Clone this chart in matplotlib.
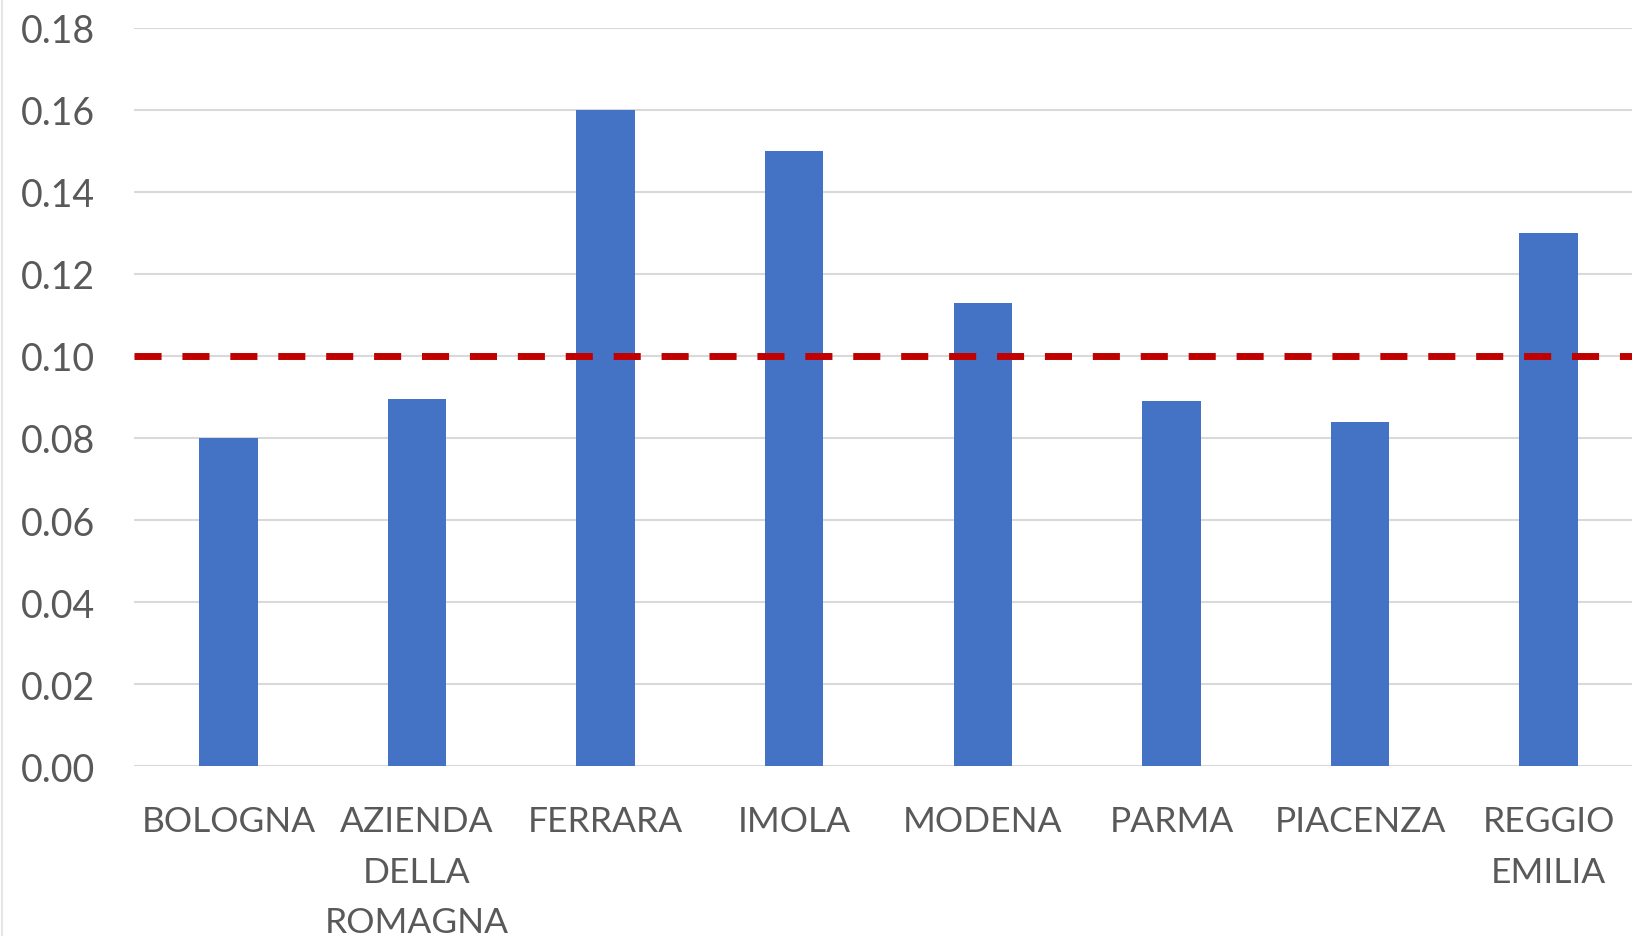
import matplotlib.pyplot as plt
import numpy as np

aziende = ['BOLOGNA', 'AZIENDA\nDELLA\nROMAGNA', 'FERRARA', 'IMOLA', 'MODENA',
           'PARMA', 'PIACENZA', 'REGGIO\nEMILIA']
valori = [0.080, 0.0895, 0.160, 0.150, 0.113, 0.089, 0.084, 0.130]
soglia = 0.10
y_ticks = [0.00, 0.02, 0.04, 0.06, 0.08, 0.10, 0.12, 0.14, 0.16, 0.18]

plt.rcParams['font.family'] = ['Lato', 'DejaVu Sans']

fig = plt.figure(figsize=(16.32, 9.37), dpi=100)
ax = fig.add_axes([0.0822, 0.1814, 0.9245, 0.7877])

x = np.arange(len(aziende))
ax.bar(x, valori, width=0.31, color='#4472c4', zorder=3)
ax.axhline(y=soglia, color='#c00000', linewidth=5, linestyle=(0, (3.9, 3)), zorder=4)

ax.set_xlim(-0.5, len(aziende) - 0.5)
ax.set_ylim(0, 0.18)
ax.set_yticks(y_ticks, [f'{t:.2f}' for t in y_ticks])
ax.set_xticks(x, aziende)
ax.grid(axis='y', color='#d9d9d9', linewidth=1.5, zorder=0)
ax.tick_params(axis='both', length=0, colors='#595959')
ax.tick_params(axis='y', pad=28, labelsize=27)
ax.tick_params(axis='x', pad=28, labelsize=25.5)
for lab in ax.get_xticklabels():
    lab.set_linespacing(1.72)
for s in ax.spines.values():
    s.set_visible(False)

fig.add_artist(plt.Line2D([0.001, 0.001], [0, 1], color='#e6e6e6', linewidth=1.5))

plt.savefig('out.png', dpi=100)
